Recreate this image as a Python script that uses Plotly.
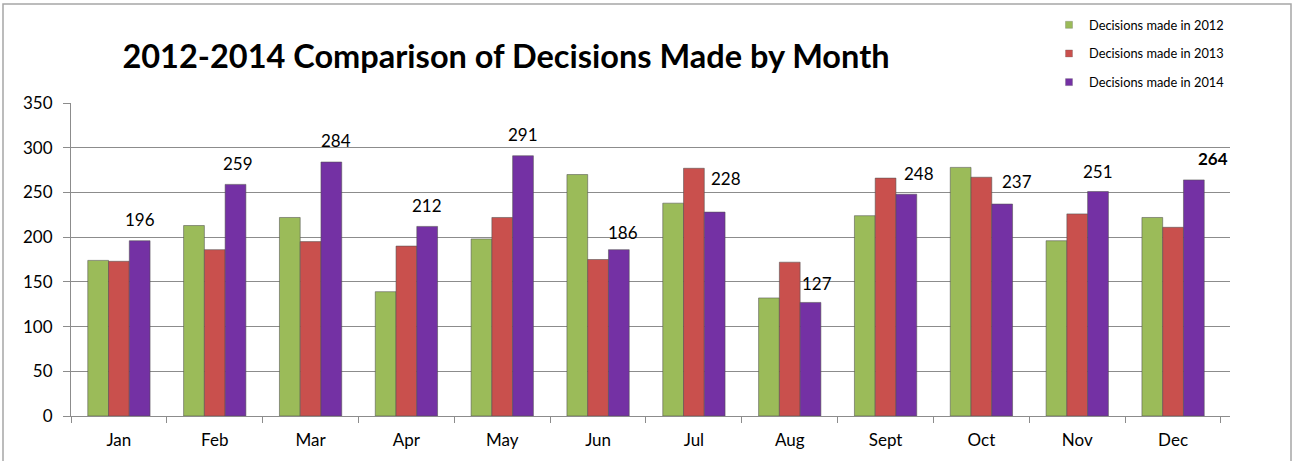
import plotly.graph_objects as go

months = ["Jan", "Feb", "Mar", "Apr", "May", "Jun", "Jul", "Aug", "Sept", "Oct", "Nov", "Dec"]
series_names = ["Decisions made in 2012", "Decisions made in 2013", "Decisions made in 2014"]
values_2012 = [174, 213, 222, 139, 198, 270, 238, 132, 224, 278, 196, 222]
values_2013 = [173, 186, 195, 190, 222, 175, 277, 172, 266, 267, 226, 211]
values_2014 = [196, 259, 284, 212, 291, 186, 228, 127, 248, 237, 251, 264]
y_ticks = [0, 50, 100, 150, 200, 250, 300, 350]

colors = ["#9BBB59", "#C9504D", "#7431A4"]
# small nudges (px) of the 2014 value labels, as placed in the original
label_dx = [0, 2, 4, 0, 0, 4, 11, 6, 12, 15, 0, 19]
label_dy = [21, 21, 22, 21, 21, 17, 34, 19, 21, 23, 20, 21]

W, H = 1293, 461
L, R, T, B = 71, 63, 103, 45
plot_w = W - L - R
plot_h = H - T - B
bargap = 0.35
FONT = "Lato"

fig = go.Figure()
for i, (name, vals, col) in enumerate(zip(series_names, [values_2012, values_2013, values_2014], colors)):
    fig.add_trace(go.Bar(
        x=months, y=vals, name=name, showlegend=False, legendgroup=f"g{i}",
        marker=dict(color=col, line=dict(color="rgba(80,80,80,0.55)", width=1)),
        hoverinfo="x+y+name",
    ))
    fig.add_trace(go.Scatter(
        x=[None], y=[None], mode="markers", name=name, legendgroup=f"g{i}",
        marker=dict(symbol="square", size=7, color=col, line=dict(color="rgba(80,80,80,0.5)", width=0.5)),
    ))

cat_w = plot_w / len(months)
bar_w = cat_w * (1 - bargap) / 3
for i, (m, v) in enumerate(zip(months, values_2014)):
    bold = (i == len(months) - 1)
    fig.add_annotation(
        x=m, y=v, xref="x", yref="y", showarrow=False,
        text=f"<b>{v}</b>" if bold else str(v),
        xshift=bar_w + label_dx[i], yshift=label_dy[i],
        xanchor="center", yanchor="middle",
        font=dict(family=FONT, size=17, color="#000000"),
    )

# outer chart border
fig.add_shape(
    type="rect", xref="paper", yref="paper",
    x0=(3 - L) / plot_w, x1=(1291 - L) / plot_w,
    y0=(H - T - 470) / plot_h, y1=(H - B - 4) / plot_h,
    line=dict(color="#A6A6A6", width=1.5), fillcolor="rgba(0,0,0,0)", layer="below",
)

fig.update_layout(
    width=W, height=H,
    margin=dict(l=L, r=R, t=T, b=B, pad=0, autoexpand=False),
    paper_bgcolor="white", plot_bgcolor="white",
    barmode="group", bargap=bargap, bargroupgap=0,
    font=dict(family=FONT, size=17, color="#000000"),
    title=dict(
        text="<b>2012-2014 Comparison of Decisions Made by Month</b>",
        x=506 / W, y=1 - 57 / H, xanchor="center", yanchor="middle",
        font=dict(family=FONT, size=32.5, color="#000000"),
    ),
    legend=dict(
        x=(1049 - L) / plot_w, y=(H - B - 10) / plot_h, xanchor="left", yanchor="top",
        font=dict(family=FONT, size=12.8, color="#000000"),
        bgcolor="rgba(0,0,0,0)", tracegroupgap=9, itemclick=False,
    ),
    xaxis=dict(
        type="category", showline=True, linecolor="#8C8C8C", linewidth=1,
        ticks="outside", tickson="boundaries", ticklen=6, tickcolor="#8C8C8C",
        showgrid=False, tickfont=dict(family=FONT, size=17), ticklabelstandoff=9,
        automargin=False,
    ),
    yaxis=dict(
        range=[0, 350], tickvals=y_ticks, showline=True, linecolor="#8C8C8C", linewidth=1,
        ticks="outside", ticklen=7, tickcolor="#8C8C8C",
        showgrid=True, gridcolor="#8C8C8C", gridwidth=1, zeroline=False,
        tickfont=dict(family=FONT, size=17), ticklabelstandoff=7,
        automargin=False,
    ),
    showlegend=True,
)

fig.write_html("out.html", config={"displayModeBar": False},
               post_script="document.body.style.margin='0px';")
